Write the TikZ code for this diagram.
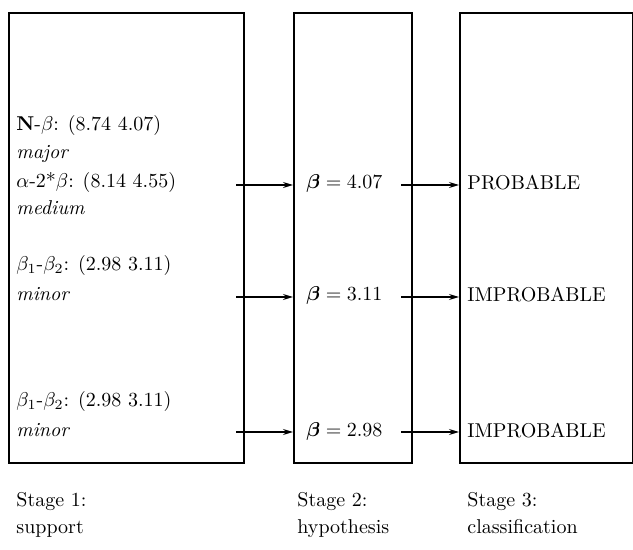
\documentclass[tikz,border=0pt]{standalone}
\usepackage{amsmath,amssymb,bm}
\usetikzlibrary{arrows.meta}

\begin{document}
\begin{tikzpicture}[
      x = 0.5pt,
      y = -0.5pt,
      stagebox/.style = {draw, thick, anchor=north west, inner sep=0pt},
      txt/.style = {anchor=base west, inner sep=0pt},
      link/.style = {-{Stealth[length=5pt,width=3pt]}, semithick},
  ]

  \useasboundingbox (0,0) rectangle (633,550);

  % the three stages
  \node [stagebox, minimum width=117.5pt, minimum height=225pt] (s1) at (8,12) {};
  \node [stagebox, minimum width=59pt, minimum height=225pt] (s2) at (293,12) {};
  \node [stagebox, minimum width=86.5pt, minimum height=225pt] (s3) at (459,12) {};

  % stage 1 text
  \node [txt] (n1) at (16,131) {\textbf{N}-$\beta$: (8.74 4.07)};
  \node [txt] (n2) at (16,159) {\textit{major}};
  \node [txt] (n3) at (16,188) {$\alpha$-2*$\beta$: (8.14 4.55)};
  \node [txt] (n4) at (16,215) {\textit{medium}};
  \node [txt] (n5) at (16,271) {$\beta_1$-$\beta_2$: (2.98 3.11)};
  \node [txt] (n6) at (16,301) {\textit{minor}};
  \node [txt] (n7) at (16,407) {$\beta_1$-$\beta_2$: (2.98 3.11)};
  \node [txt] (n8) at (16,437) {\textit{minor}};

  % stage 2 text
  \node [txt] (h1) at (306,189) {$\bm{\beta} = 4.07$};
  \node [txt] (h2) at (306,301) {$\bm{\beta} = 3.11$};
  \node [txt] (h3) at (306,437) {$\bm{\beta} = 2.98$};

  % stage 3 text
  \node [txt] (c1) at (467,190) {PROBABLE};
  \node [txt] (c2) at (467,302) {IMPROBABLE};
  \node [txt] (c3) at (467,438) {IMPROBABLE};

  % arrows
  \coordinate (a1) at (236,185);
  \coordinate (a2) at (236,297);
  \coordinate (a3) at (236,432);
  \coordinate (b1) at (401,185);
  \coordinate (b2) at (401,297);
  \coordinate (b3) at (401,432);

  \draw [link] (a1) -- (a1 -| s2.west);
  \draw [link] (a2) -- (a2 -| s2.west);
  \draw [link] (a3) -- (a3 -| s2.west);
  \draw [link] (b1) -- (b1 -| s3.west);
  \draw [link] (b2) -- (b2 -| s3.west);
  \draw [link] (b3) -- (b3 -| s3.west);

  % stage names
  \node [txt] (l1) at (16,507) {Stage 1:};
  \node [txt] (l2) at (16,534) {support};
  \node [txt] (l3) at (297,507) {Stage 2:};
  \node [txt] (l4) at (297,534) {hypothesis};
  \node [txt] (l5) at (467,507) {Stage 3:};
  \node [txt] (l6) at (467,534) {classification};

\end{tikzpicture}
\end{document}
